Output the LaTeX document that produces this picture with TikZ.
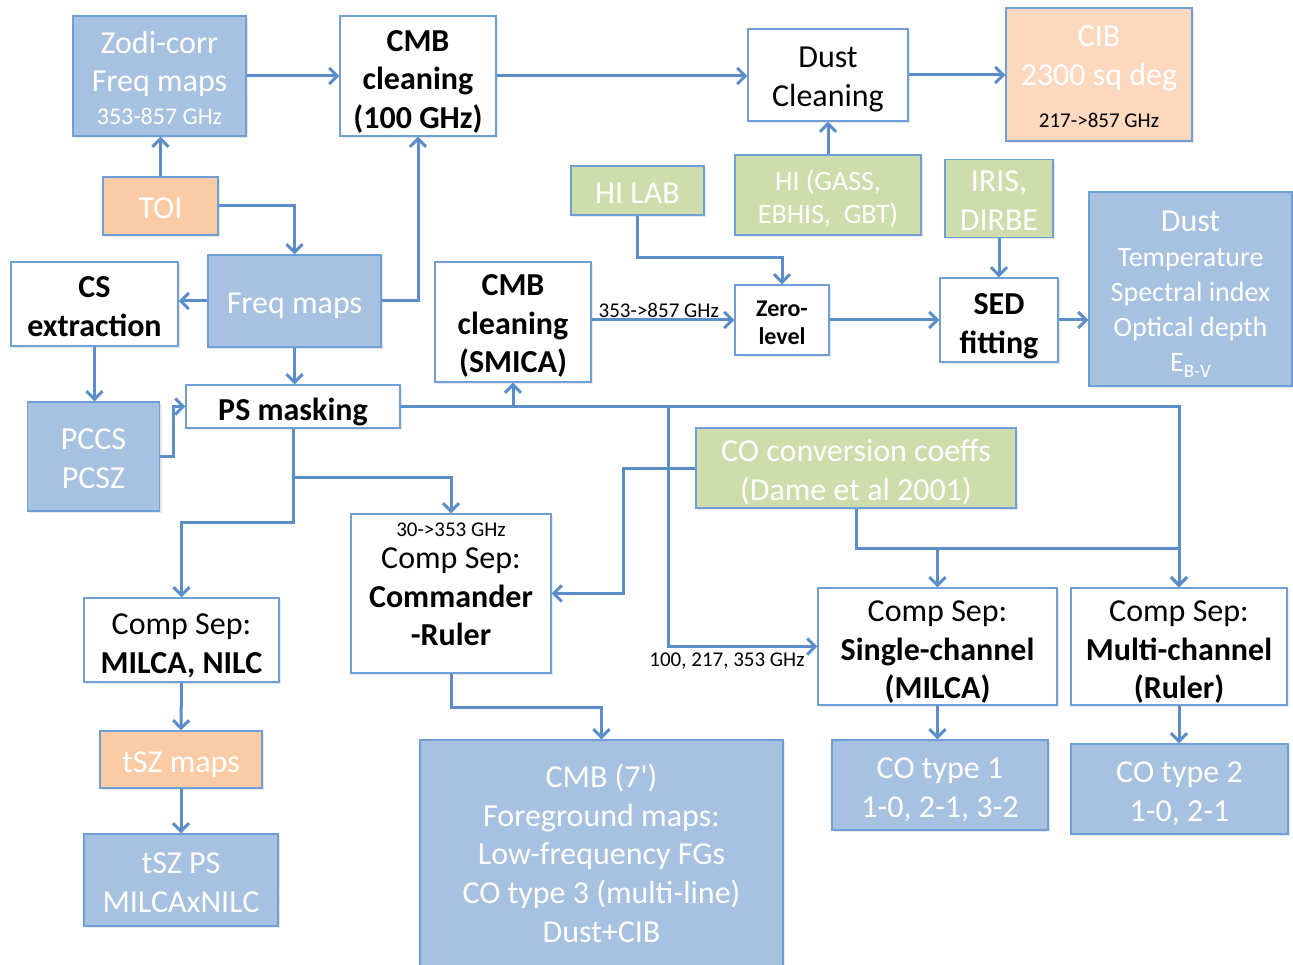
\documentclass[tikz,border=0pt]{standalone}
\usepackage{fontspec}
\newfontfamily\carl{Carlito}
\usetikzlibrary{arrows.meta,shadows}
\definecolor{linec}{HTML}{5B8DCA}
\definecolor{borderc}{HTML}{6F9FD8}
\definecolor{bluef}{HTML}{A7C1E0}
\definecolor{orangef}{HTML}{FBCBA5}
\definecolor{peachf}{HTML}{FCD9BE}
\definecolor{greenf}{HTML}{CFDDAC}
% lowered stacked text (box keeps its natural size)
\newcommand\lw[2][5pt]{\raisebox{-#1}[\height][\depth]{\begin{tabular}{@{}c@{}}#2\end{tabular}}}
\begin{document}
\begin{tikzpicture}[x=1pt,y=-1pt,
  bx/.style={draw=borderc, line width=1.3pt, inner sep=0pt,
    font=\carl\fontsize{32}{38.7}\selectfont,
    drop shadow={shadow xshift=2pt,shadow yshift=-2pt,opacity=0.18}},
  bluebox/.style={bx, fill=bluef, text=white},
  orangebox/.style={bx, fill=orangef, text=white},
  peachbox/.style={bx, fill=peachf, text=white},
  greenbox/.style={bx, fill=greenf, text=white},
  whitebox/.style={bx, fill=white, text=black},
  boldtext/.style={font=\carl\bfseries\fontsize{32}{38.7}\selectfont},
  sz/.style 2 args={minimum width=#1pt, minimum height=#2pt},
  arr/.style={draw=linec, line width=3pt, -{Straight Barb[length=8pt,width=16pt]}},
  lbl/.style={font=\carl\fontsize{21}{25}\selectfont, inner sep=1pt, text=black}
]
\useasboundingbox (0,0) rectangle (1293,965);
\clip (0,0) rectangle (1293,965);

% nodes
\node[bluebox, sz={173}{120}] (zodi) at (159.5,76) {\lw{Zodi-corr\\Freq maps\\[-6pt]{\fontsize{24}{29}\selectfont 353-857 GHz}}};
\node[whitebox, boldtext, sz={156}{120}] (cmb100) at (418,76) {\lw[6pt]{CMB\\cleaning\\(100 GHz)}};
\node[whitebox, sz={160}{92}] (dustclean) at (828,75) {\lw[4.5pt]{Dust\\Cleaning}};
\node[peachbox, sz={186}{133}] (cib) at (1099,74.5) {\lw{CIB\\2300 sq deg\\[4pt]{\color{black}\fontsize{21}{25}\selectfont 217->857 GHz}}};
\node[orangebox, sz={115}{58}] (toi) at (160.5,206) {\lw[4.5pt]{TOI}};
\node[greenbox, sz={133}{49}] (hilab) at (637.5,190.5) {\lw{HI LAB}};
\node[greenbox, sz={186}{80}, font=\carl\fontsize{28}{33}\selectfont] (higass) at (828,195) {\lw{HI (GASS,\\EBHIS,\ \ GBT)}};
\node[greenbox, sz={108}{77}] (iris) at (999,198.5) {\lw{IRIS,\\DIRBE}};
\node[bluebox, sz={203}{194}, font=\carl\fontsize{28}{35}\selectfont] (dusttemp) at (1190.5,289) {\lw[6pt]{{\fontsize{32}{35}\selectfont Dust}\\Temperature\\Spectral index\\Optical depth\\E\raisebox{-0.4ex}{\fontsize{19}{20}\selectfont B-V}}};
\node[whitebox, boldtext, sz={167}{84}] (csext) at (94.5,304) {\lw{CS\\extraction}};
\node[bluebox, sz={173}{92}] (freqmaps) at (294.5,301) {\lw[4.5pt]{Freq maps}};
\node[whitebox, boldtext, sz={156}{120}] (smica) at (513,322) {\lw[4.5pt]{CMB\\cleaning\\(SMICA)}};
\node[whitebox, sz={94}{70}, font=\carl\bfseries\fontsize{24}{28}\selectfont] (zero) at (782,320) {\lw[4.5pt]{Zero-\\level}};
\node[whitebox, boldtext, sz={118}{84}] (sed) at (999,320) {\lw[6pt]{SED\\fitting}};
\node[whitebox, boldtext, sz={214}{43}] (psmask) at (293,406.5) {\lw[6pt]{PS masking}};
\node[bluebox, sz={132}{109}] (pccs) at (93.5,456.5) {\lw{PCCS\\PCSZ}};
\node[greenbox, sz={320}{80}] (coconv) at (856,468) {\lw{CO conversion coeffs\\(Dame et al 2001)}};
\node[whitebox, sz={200}{159}] (commander) at (451,593.5) {\lw[-10pt]{{\fontsize{21}{25}\selectfont 30->353 GHz}\\[-7pt]Comp Sep:\\\textbf{Commander}\\\textbf{-Ruler}}};
\node[whitebox, sz={195}{84}] (milca) at (181.5,640) {\lw[6pt]{Comp Sep:\\\textbf{MILCA, NILC}}};
\node[whitebox, sz={239}{117}] (single) at (937.5,646.5) {\lw[6pt]{Comp Sep:\\\textbf{Single-channel}\\\textbf{(MILCA)}}};
\node[whitebox, sz={216}{117}] (multi) at (1179,646.5) {\lw[6pt]{Comp Sep:\\\textbf{Multi-channel}\\\textbf{(Ruler)}}};
\node[orangebox, sz={162}{57}] (tszmaps) at (181,759.5) {\lw{tSZ maps}};
\node[bluebox, sz={194}{92}] (tszps) at (181,880) {\lw{tSZ PS\\MILCAxNILC}};
\node[bluebox, sz={363}{230}] (cmb7) at (601.5,855) {\lw[2pt]{CMB (7')\\Foreground maps:\\Low-frequency FGs\\CO type 3 (multi-line)\\Dust+CIB}};
\node[bluebox, sz={216}{90}] (co1) at (940,785) {\lw{CO type 1\\1-0, 2-1, 3-2}};
\node[bluebox, sz={217}{90}] (co2) at (1179.5,789) {\lw{CO type 2\\1-0, 2-1}};
\node[lbl] (lbl100) at (727,661) {100, 217, 353 GHz};

\coordinate (br1) at (668,406.5);

% connectors
\draw[arr] (zodi.east) -- (cmb100.west);
\draw[arr] (toi.north) -- (toi.north |- zodi.south);
\draw[arr] (toi.east) -| (freqmaps.north);
\draw[arr] (freqmaps.east) -| (cmb100.south);
\draw[arr] (cmb100.east) -- (cmb100.east -| dustclean.west);
\draw[arr] (dustclean.east) -- (dustclean.east -| cib.west);
\draw[arr] (higass.north) -- (dustclean.south);
\draw[arr] (hilab.south) -- ++(0,42) -| (zero.north);
\draw[arr] (zero.west -| smica.east) -- node[lbl, above, pos=0.47] {353->857 GHz} (zero.west);
\draw[arr] (zero.east) -- (sed.west);
\draw[arr] (iris.south) -- (sed.north);
\draw[arr] (sed.east) -- (sed.east -| dusttemp.west);
\draw[arr] (freqmaps.west) -- (freqmaps.west -| csext.east);
\draw[arr] (freqmaps.south) -- (freqmaps.south |- psmask.north);
\draw[arr] (csext.south) -- (csext.south |- pccs.north);
\draw[arr] (pccs.east) -- ++(13,0) |- (psmask.west);
\draw[arr] (psmask.east) -| (smica.south);
\draw[arr] (psmask.east) -| (multi.north);
\draw[arr] (br1) |- (single.west);
\draw[arr] (psmask.south) -- ++(0,94) -| (milca.north);
\draw[arr] (psmask.south) -- ++(0,49) -| (commander.north);
\draw[arr] (coconv.west) -- ++(-72,0) |- (commander.east);
\draw[arr] (coconv.south) -- ++(0,40) -| (multi.north);
\draw[arr] (coconv.south) -- ++(0,40) -| (single.north);
\draw[arr] (commander.south) -- ++(0,34) -| (cmb7.north);
\draw[arr] (milca.south) -- (tszmaps.north);
\draw[arr] (tszmaps.south) -- (tszps.north);
\draw[arr] (single.south) -- (single.south |- co1.north);
\draw[arr] (multi.south) -- (multi.south |- co2.north);
\end{tikzpicture}
\end{document}
